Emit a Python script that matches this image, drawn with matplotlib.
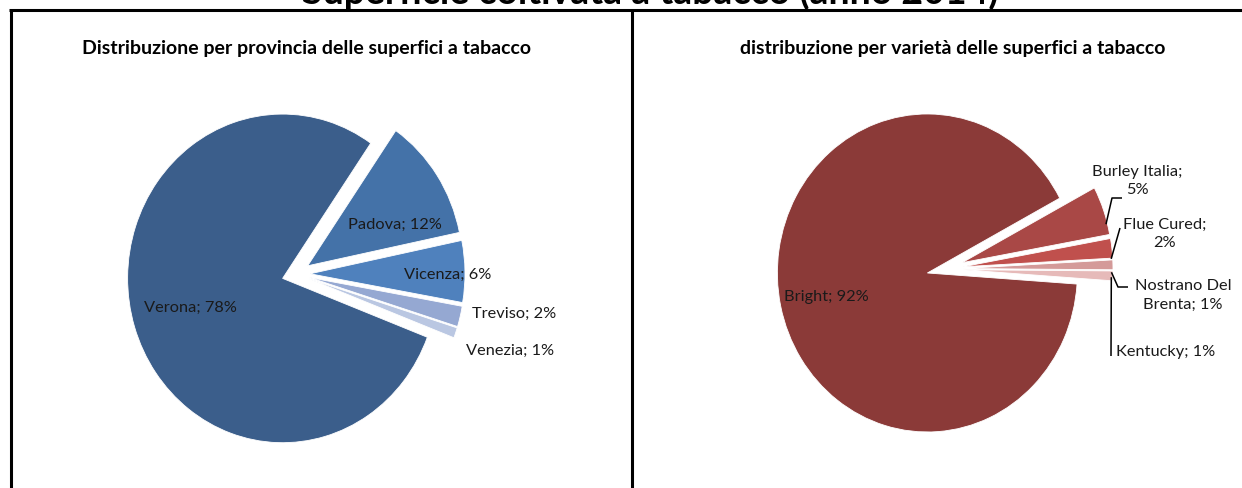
import numpy as np
import matplotlib.pyplot as plt

plt.rcParams['font.family'] = ['Lato', 'DejaVu Sans']

W, H = 1242, 489
SY = 1.06  # the charts are a bit taller than wide

# superficie per provincia (%)
province = ['Verona', 'Padova', 'Vicenza', 'Treviso', 'Venezia']
prov_pct = [78, 12, 6, 2, 1]
prov_colors = ['#3B5E8B', '#4472A8', '#4F81BD', '#95A8D2', '#BAC7E2']

# superficie per varietà (%)
varieta = ['Bright', 'Burley Italia', 'Flue Cured', 'Nostrano Del Brenta', 'Kentucky']
var_pct = [92, 5, 2, 1, 1]
var_colors = ['#8B3A38', '#A94846', '#C0504D', '#D49A99', '#E6BAB9']


def Y(py):
    """pixel row (from top) -> data y"""
    return (H - py) / SY


def wedge_geom(vals, start, cx, cy, expl):
    """mid angle (rad) and exploded centre of every wedge, clockwise from start"""
    v = np.asarray(vals, float)
    frac = np.concatenate([[0], np.cumsum(v / v.sum())])
    out = []
    for i in range(len(v)):
        a0 = start - frac[i] * 360
        a1 = start - frac[i + 1] * 360
        mid = np.radians((a0 + a1) / 2)
        out.append((mid, cx + expl * np.cos(mid), cy + expl * np.sin(mid)))
    return out


def polar(x, y, r, a):
    return x + r * np.cos(a), y + r * np.sin(a)


fig = plt.figure(figsize=(W / 100, H / 100), dpi=100)
ax = fig.add_axes([0, 0, 1, 1])

# ---- pie 1: province ----
c1 = (296, Y(275))
r1 = 155
e1 = 14
st1 = -21
ax.pie(prov_pct, colors=prov_colors, startangle=st1, counterclock=False,
       center=c1, radius=r1, explode=[e1] * 5, frame=True,
       wedgeprops=dict(edgecolor='white', linewidth=0.6))
g1 = wedge_geom(prov_pct, st1, c1[0], c1[1], e1)
# (radius factor, angle tweak in deg, ha) per label
lab1 = [(0.62, -1, 'center'), (0.62, -9, 'center'), (0.89, -1, 'center'),
        (1.07, 2, 'left'), (1.10, -4, 'left')]
for name, p, (mid, x, y), (rf, da, ha) in zip(province, prov_pct, g1, lab1):
    tx, ty = polar(x, y, rf * r1, mid + np.radians(da))
    ax.text(tx, ty, f'{name}; {p}%', ha=ha, va='center', fontsize=11.8, color='#1a1a1a')

# ---- pie 2: varieta ----
c2 = (945, Y(270))
r2 = 150
e2 = 18
st2 = -4
ax.pie(var_pct, colors=var_colors, startangle=st2, counterclock=False,
       center=c2, radius=r2, explode=[e2] * 5, frame=True,
       wedgeprops=dict(edgecolor='white', linewidth=0.6))
g2 = wedge_geom(var_pct, st2, c2[0], c2[1], e2)

mid, x, y = g2[0]
tx, ty = polar(x, y, 0.69 * r2, mid)
ax.text(tx, ty, f'{varieta[0]}; {var_pct[0]}%', ha='center', va='center',
        fontsize=11.8, color='#1a1a1a')

# outside labels with leader lines: text centre, angle tweak of leader start, leader bends
outside = [
    ((1137, 181), -5.0, [(1112, 199), (1122, 199)]),
    ((1165, 234), -3.8, [(1120, 229)]),
    ((1183, 295), -2.7, [(1118, 288), (1128, 288)]),
    ((1166, 352), -0.5, [(1111, 357)]),
]
labels2 = ['Burley Italia;\n{}%', 'Flue Cured;\n{}%', 'Nostrano Del\nBrenta; {}%', 'Kentucky; {}%']
for i, ((tx, ty), da, pts) in enumerate(outside, start=1):
    mid, x, y = g2[i]
    sx, sy = polar(x, y, 0.99 * r2, mid + np.radians(da))
    xs = [sx] + [p[0] for p in pts]
    ys = [sy] + [Y(p[1]) for p in pts]
    ax.plot(xs, ys, color='black', lw=1.1, solid_capstyle='butt')
    ax.text(tx, Y(ty), labels2[i - 1].format(var_pct[i]), ha='center', va='center',
            fontsize=11.8, color='#1a1a1a', linespacing=1.45)

ax.set_aspect(SY)
ax.set_xlim(0, W)
ax.set_ylim(0, H / SY)
ax.axis('off')

# ---- frame ----
ax.plot([9, W], [Y(10.5), Y(10.5)], color='black', lw=2.2, solid_capstyle='butt')
ax.plot([10.5, 10.5], [0, Y(10.5)], color='black', lw=2.2, solid_capstyle='butt')
ax.plot([632, 632], [0, Y(10.5)], color='black', lw=2.2, solid_capstyle='butt')

# ---- titles ----
ax.text(650, Y(4), 'Superficie coltivata a tabacco (anno 2014)', ha='center', va='baseline',
        fontsize=27, fontweight='bold')
ax.text(306, Y(48), 'Distribuzione per provincia delle superfici a tabacco', ha='center',
        va='center', fontsize=14, fontweight='bold')
ax.text(953, Y(48), 'distribuzione per varietà delle superfici a tabacco', ha='center',
        va='center', fontsize=14, fontweight='bold')

fig.savefig('out.png', dpi=100, facecolor='white')
